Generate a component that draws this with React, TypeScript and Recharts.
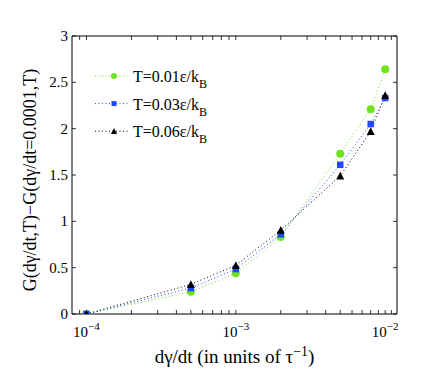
import React from "react";
import { Label, Line, LineChart, XAxis, YAxis } from "recharts";

// shear rates (x) and G(rate,T) - G(0.0001,T) for each temperature
const RATES = [1e-4, 5e-4, 1e-3, 2e-3, 5e-3, 8e-3, 1e-2];
const T001 = [0, 0.24, 0.44, 0.83, 1.73, 2.21, 2.64];
const T003 = [0, 0.28, 0.485, 0.86, 1.61, 2.05, 2.33];
const T006 = [0, 0.32, 0.525, 0.905, 1.49, 1.97, 2.36];

const SERIES_LABELS = ["T=0.01ε/k", "T=0.03ε/k", "T=0.06ε/k"];

const X_MAJOR = [1e-4, 1e-3, 1e-2];
const X_MINOR = [
  9e-5, 2e-4, 3e-4, 4e-4, 5e-4, 6e-4, 7e-4, 8e-4, 9e-4,
  2e-3, 3e-3, 4e-3, 5e-3, 6e-3, 7e-3, 8e-3, 9e-3, 1.1e-2,
];
const X_EXP = ["−4", "−3", "−2"];
const Y_TICKS = [0, 0.5, 1, 1.5, 2, 2.5, 3];

const W = 444;
const H = 382;
const SERIF = { fontFamily: '"Liberation Serif", "DejaVu Serif", serif' };
const GREEN = "#6ee41c";
const BLUE = "#1f47ff";
const BLACK = "#000000";

const data = RATES.map((r, i) => ({ rate: r, a: T001[i], b: T003[i], c: T006[i] }));
const X_TICKS = [...X_MAJOR, ...X_MINOR].sort((p, q) => p - q);

type Shape = "circle" | "square" | "triangle";

function Marker({ cx, cy, shape, color, s }: { cx: number; cy: number; shape: Shape; color: string; s: number }) {
  if (shape === "circle") return <circle cx={cx} cy={cy} r={s / 2} fill={color} />;
  if (shape === "square") return <rect x={cx - s / 2} y={cy - s / 2} width={s} height={s} fill={color} />;
  const h = s * 0.9;
  return (
    <polygon
      points={`${cx},${cy - h / 2 - 0.5} ${cx - s / 2},${cy + h / 2} ${cx + s / 2},${cy + h / 2}`}
      fill={color}
    />
  );
}

const SERIES: { key: string; color: string; shape: Shape; size: number }[] = [
  { key: "a", color: GREEN, shape: "circle", size: 8 },
  { key: "b", color: BLUE, shape: "square", size: 6.5 },
  { key: "c", color: BLACK, shape: "triangle", size: 8 },
];

const TICK_LEN = 4;

function bottomTick(props: any) {
  const { x, y, payload } = props;
  const v = payload.value;
  const mi = X_MAJOR.indexOf(v);
  return (
    <g>
      <line x1={x} y1={y} x2={x} y2={y - TICK_LEN} stroke="#000" strokeWidth={0.8} />
      {mi >= 0 && (
        <text x={x} y={y + 23} textAnchor="middle" style={SERIF} fontSize={15} fill="#000">
          10
          <tspan dy={-7} fontSize={11}>
            {X_EXP[mi]}
          </tspan>
        </text>
      )}
    </g>
  );
}

function topTick(props: any) {
  const { x, y } = props;
  return <line x1={x} y1={y} x2={x} y2={y + TICK_LEN} stroke="#000" strokeWidth={0.8} />;
}

function leftTick(props: any) {
  const { x, y, payload } = props;
  return (
    <g>
      <line x1={x} y1={y} x2={x + TICK_LEN} y2={y} stroke="#000" strokeWidth={0.8} />
      <text x={x - 4} y={y + 5} textAnchor="end" style={SERIF} fontSize={15} fill="#000">
        {String(payload.value)}
      </text>
    </g>
  );
}

function rightTick(props: any) {
  const { x, y } = props;
  return <line x1={x} y1={y} x2={x - TICK_LEN} y2={y} stroke="#000" strokeWidth={0.8} />;
}

function Legend() {
  const top = 76;
  const gap = 27.6;
  return (
    <svg
      width={W}
      height={H}
      style={{ position: "absolute", left: 0, top: 0, pointerEvents: "none" }}
    >
      {SERIES.map((s, i) => {
        const y = top + i * gap;
        return (
          <g key={s.key}>
            <line x1={95} y1={y} x2={128} y2={y} stroke={s.color} strokeWidth={1} strokeDasharray="1 2.5" />
            <Marker cx={114} cy={y} shape={s.shape} color={s.color} s={s.shape === "square" ? 5 : 6} />
            <text x={133} y={y + 6} style={SERIF} fontSize={16} fill="#000">
              {SERIES_LABELS[i]}
              <tspan dy={6} fontSize={12}>
                B
              </tspan>
            </text>
          </g>
        );
      })}
    </svg>
  );
}

export default function App() {
  return (
    <div style={{ position: "absolute", left: 0, top: 0, width: W, height: H, background: "#fff" }}>
      <LineChart width={W} height={H} data={data} margin={{ top: 35, right: 46, bottom: 0, left: 0 }}>
        <XAxis
          dataKey="rate"
          type="number"
          scale="log"
          domain={[8e-5, 1.2e-2]}
          allowDataOverflow
          ticks={X_TICKS}
          interval={0}
          height={68}
          tickSize={0}
          tickMargin={0}
          tickLine={false}
          axisLine={{ stroke: "#000", strokeWidth: 1 }}
          tick={bottomTick}
        >
          <Label
            content={(p: any) => {
              const vb = p.viewBox;
              return (
                <text
                  x={vb.x + vb.width / 2}
                  y={vb.y + 49}
                  textAnchor="middle"
                  style={SERIF}
                  fontSize={19}
                  fill="#000"
                >
                  dγ/dt (in units of τ
                  <tspan dy={-7} fontSize={14}>
                    −1
                  </tspan>
                  <tspan dy={7}>)</tspan>
                </text>
              );
            }}
          />
        </XAxis>
        <XAxis
          xAxisId="top"
          orientation="top"
          dataKey="rate"
          type="number"
          scale="log"
          domain={[8e-5, 1.2e-2]}
          allowDataOverflow
          ticks={X_TICKS}
          interval={0}
          height={1}
          tickSize={0}
          tickMargin={0}
          tickLine={false}
          axisLine={{ stroke: "#000", strokeWidth: 1 }}
          tick={topTick}
        />
        <YAxis
          type="number"
          domain={[0, 3]}
          allowDataOverflow
          ticks={Y_TICKS}
          interval={0}
          width={72}
          tickSize={0}
          tickMargin={0}
          tickLine={false}
          axisLine={{ stroke: "#000", strokeWidth: 1 }}
          tick={leftTick}
        >
          <Label
            content={(p: any) => {
              const vb = p.viewBox;
              const cx = 36;
              const cy = vb.y + vb.height / 2 + 5;
              return (
                <text
                  x={cx}
                  y={cy}
                  transform={`rotate(-90, ${cx}, ${cy})`}
                  textAnchor="middle"
                  style={SERIF}
                  fontSize={18}
                  fill="#000"
                >
                  G(dγ/dt,T)−G(dγ/dt=0.0001,T)
                </text>
              );
            }}
          />
        </YAxis>
        <YAxis
          yAxisId="right"
          orientation="right"
          type="number"
          domain={[0, 3]}
          allowDataOverflow
          ticks={Y_TICKS}
          interval={0}
          width={1}
          tickSize={0}
          tickMargin={0}
          tickLine={false}
          axisLine={{ stroke: "#000", strokeWidth: 1 }}
          tick={rightTick}
        />
        {SERIES.map((s) => (
          <Line
            key={s.key}
            dataKey={s.key}
            type="linear"
            stroke={s.color}
            strokeWidth={1}
            strokeDasharray="1 2.5"
            isAnimationActive={false}
            dot={(p: any) => (
              <Marker key={`${s.key}-${p.index}`} cx={p.cx} cy={p.cy} shape={s.shape} color={s.color} s={s.size} />
            )}
            activeDot={false}
          />
        ))}
      </LineChart>
      <Legend />
    </div>
  );
}
